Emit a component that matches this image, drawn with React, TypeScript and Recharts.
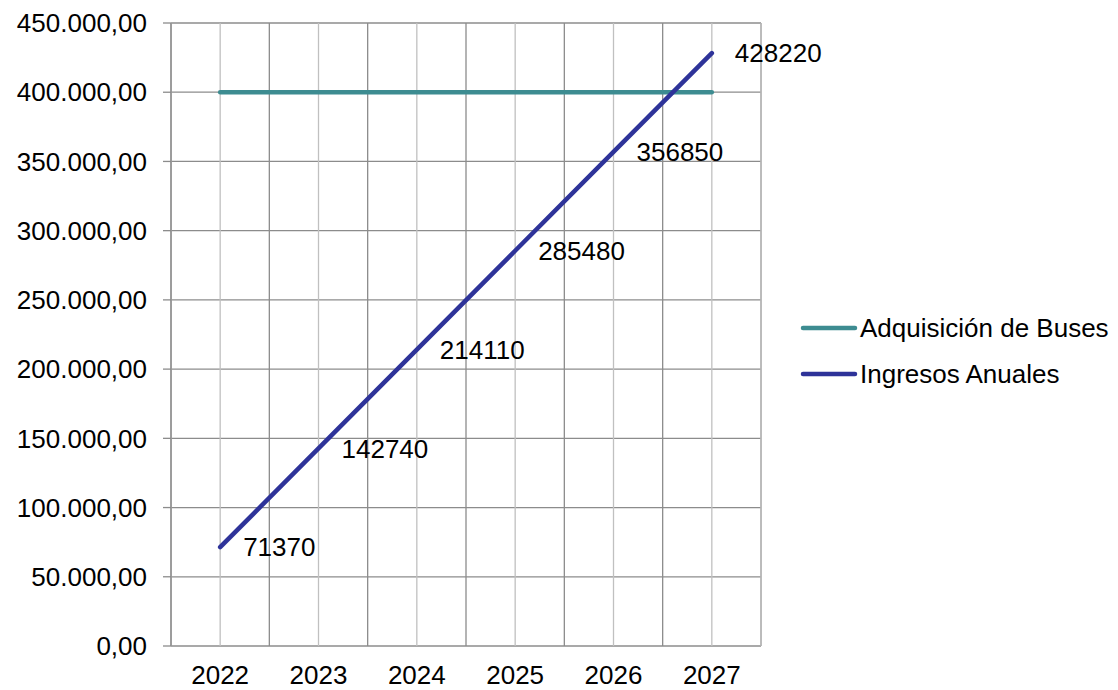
import { LineChart, Line, XAxis, YAxis, CartesianGrid, Legend, LabelList } from "recharts";

const YEARS = ["2022", "2023", "2024", "2025", "2026", "2027"];
const ADQUISICION = [400000, 400000, 400000, 400000, 400000, 400000];
const INGRESOS = [71370, 142740, 214110, 285480, 356850, 428220];
const Y_TICKS = [0, 50000, 100000, 150000, 200000, 250000, 300000, 350000, 400000, 450000];

const TEAL = "#3D8C91";
const BLUE = "#2E3399";
const FONT = "'Liberation Sans', Arial, sans-serif";

const data = YEARS.map((year, i) => ({
  idx: i,
  year,
  buses: ADQUISICION[i],
  ingresos: INGRESOS[i],
}));

const centerTicks = YEARS.map((_, i) => i);
const edgeTicks = [...YEARS.map((_, i) => i - 0.5), YEARS.length - 0.5];

function fmtMoney(v: number) {
  const int = Math.round(v).toString().replace(/\B(?=(\d{3})+(?!\d))/g, ".");
  return int + ",00";
}

function PointLabel(props: any) {
  const { x, y, value } = props;
  return (
    <text
      x={x + 23}
      y={y}
      dy="0.355em"
      fontSize={26}
      fontFamily={FONT}
      fill="#000"
      textAnchor="start"
    >
      {value}
    </text>
  );
}

function LegendBox() {
  const items = [
    { name: "Adquisición de Buses", color: TEAL },
    { name: "Ingresos Anuales", color: BLUE },
  ];
  return (
    <div style={{ fontFamily: FONT, fontSize: 26, color: "#000" }}>
      {items.map((it) => (
        <div key={it.name} style={{ display: "flex", alignItems: "center", height: 46 }}>
          <svg width={58} height={10}>
            <line x1={3} y1={5} x2={55} y2={5} stroke={it.color} strokeWidth={4.5} strokeLinecap="round" />
          </svg>
          <span style={{ marginLeft: 2, whiteSpace: "nowrap" }}>{it.name}</span>
        </div>
      ))}
    </div>
  );
}

export default function App() {
  return (
    <div style={{ position: "absolute", left: 0, top: 0, fontFamily: FONT }}>
      <LineChart width={1118} height={690} data={data} margin={{ top: 23, right: 357, bottom: 0, left: 0 }}>
        <CartesianGrid xAxisId="edge" stroke="#8c8c8c" strokeWidth={1.3} />
        <CartesianGrid xAxisId="year" stroke="#c0c0c0" strokeWidth={1.3} horizontal={false} />
        <XAxis
          xAxisId="edge"
          type="number"
          dataKey="idx"
          domain={[-0.5, YEARS.length - 0.5]}
          ticks={edgeTicks}
          tickFormatter={() => ""}
          height={0}
          tickSize={8}
          stroke="#8c8c8c"
          tickLine={{ stroke: "#8c8c8c", strokeWidth: 1.3 }}
          axisLine={{ stroke: "#8c8c8c", strokeWidth: 1.3 }}
        />
        <XAxis
          xAxisId="year"
          type="number"
          dataKey="idx"
          domain={[-0.5, YEARS.length - 0.5]}
          ticks={centerTicks}
          tickFormatter={(v) => YEARS[v]}
          height={44}
          tickSize={8}
          tickMargin={12}
          tickLine={false}
          axisLine={false}
          tick={{ fill: "#000", fontSize: 26, fontFamily: FONT }}
        />
        <YAxis
          domain={[0, 450000]}
          ticks={Y_TICKS}
          width={171}
          tickSize={8}
          tickMargin={16}
          tickFormatter={fmtMoney}
          tick={{ fill: "#000", fontSize: 26, fontFamily: FONT }}
          tickLine={{ stroke: "#8c8c8c", strokeWidth: 1.3 }}
          axisLine={{ stroke: "#8c8c8c", strokeWidth: 1.3 }}
        />
        <Line
          xAxisId="year"
          type="linear"
          dataKey="buses"
          name="Adquisición de Buses"
          stroke={TEAL}
          strokeWidth={4.5}
          strokeLinecap="round"
          dot={false}
          activeDot={false}
          isAnimationActive={false}
        />
        <Line
          xAxisId="year"
          type="linear"
          dataKey="ingresos"
          name="Ingresos Anuales"
          stroke={BLUE}
          strokeWidth={4.5}
          strokeLinecap="round"
          dot={false}
          activeDot={false}
          isAnimationActive={false}
        >
          <LabelList dataKey="ingresos" content={PointLabel} />
        </Line>
        <Legend
          layout="vertical"
          align="center"
          verticalAlign="middle"
          content={() => <LegendBox />}
          wrapperStyle={{ left: 800, top: 305, width: 318 }}
        />
      </LineChart>
    </div>
  );
}
